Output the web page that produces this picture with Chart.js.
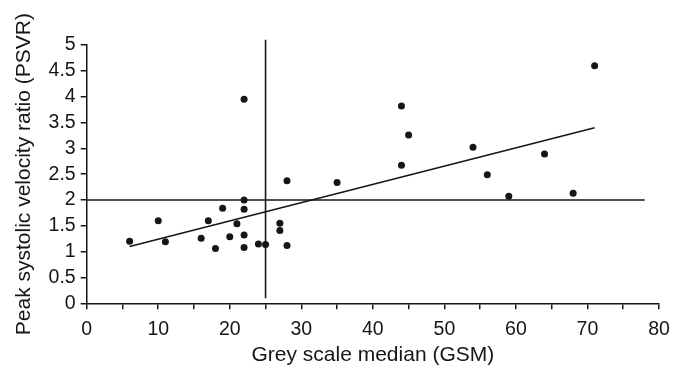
<!DOCTYPE html>
<html>
<head>
<meta charset="utf-8">
<script src="https://cdn.jsdelivr.net/npm/chart.js@4/dist/chart.umd.min.js"></script>
<style>
  html, body { margin: 0; padding: 0; background: #ffffff; }
  #wrap { width: 684px; height: 368px; }
</style>
</head>
<body>
<div id="wrap"><canvas id="c" width="684" height="368"></canvas></div>
<script>
// Grey scale median of each plaque and its peak systolic velocity ratio
const gsm  = [6, 10, 11, 16, 17, 18, 19, 20, 21, 22, 22, 22, 22, 22, 24, 25, 27, 27, 28, 28, 35, 44, 44, 45, 54, 56, 59, 64, 68, 71];
const psvr = [1.20, 1.60, 1.19, 1.26, 1.60, 1.06, 1.84, 1.29, 1.54, 2.00, 1.82, 1.32, 1.08, 3.95, 1.15, 1.14, 1.55, 1.41, 1.12, 2.37, 2.34, 3.82, 2.67, 3.26, 3.02, 2.49, 2.07, 2.89, 2.13, 4.60];

// Least-squares fit, end points
const fitX = [6, 71];
const fitY = [1.10, 3.40];

// Cut-off lines: PSVR = 2 and GSM = 25
const cutPsvrX = [0, 78];
const cutPsvrY = [2, 2];
const cutGsmX = [25, 25];
const cutGsmY = [0.1, 5.1];

// Axis ranges and tick steps
const xRange = [0, 80];
const yRange = [0, 5];
const xStep = 5;
const xLabelEvery = 10;
const yStep = 0.5;

const ink = '#161616';
const fontFamily = 'Liberation Sans, Arial, sans-serif';
const pairs = (xs, ys) => xs.map((x, i) => ({ x: x, y: ys[i] }));

const lineSet = (xs, ys) => ({
  type: 'scatter',
  data: pairs(xs, ys),
  showLine: true,
  borderColor: ink,
  borderWidth: 1.6,
  pointRadius: 0,
  clip: false,
  fill: false
});

new Chart(document.getElementById('c'), {
  type: 'scatter',
  data: {
    datasets: [
      {
        data: pairs(gsm, psvr),
        backgroundColor: ink,
        borderColor: ink,
        pointStyle: 'circle',
        pointRadius: 3.5,
        borderWidth: 0,
        clip: false
      },
      lineSet(fitX, fitY),
      lineSet(cutPsvrX, cutPsvrY),
      lineSet(cutGsmX, cutGsmY)
    ]
  },
  options: {
    responsive: false,
    animation: false,
    layout: { padding: { left: 0, right: 25, top: 45, bottom: 0 } },
    plugins: { legend: { display: false }, tooltip: { enabled: false } },
    scales: {
      x: {
        type: 'linear',
        min: xRange[0],
        max: xRange[1],
        afterFit: s => { s.height = 64.7; },
        ticks: {
          stepSize: xStep,
          autoSkip: false,
          maxRotation: 0,
          padding: 9,
          color: ink,
          font: { family: fontFamily, size: 19.5 },
          callback: v => (v % xLabelEvery === 0 ? String(v) : '')
        },
        grid: { drawOnChartArea: false, drawTicks: true, tickLength: 6, color: ink, lineWidth: 1.5 },
        border: { display: true, color: ink, width: 1.5 },
        title: {
          display: true,
          text: 'Grey scale median (GSM)',
          color: ink,
          font: { family: fontFamily, size: 21 },
          padding: { top: 0, bottom: 0 }
        }
      },
      y: {
        type: 'linear',
        min: yRange[0],
        max: yRange[1],
        afterFit: s => { s.width = 86.7; },
        ticks: {
          stepSize: yStep,
          autoSkip: false,
          padding: 5,
          color: ink,
          font: { family: fontFamily, size: 19.5 },
          callback: v => String(Math.round(v * 10) / 10)
        },
        grid: { drawOnChartArea: false, drawTicks: true, tickLength: 6, color: ink, lineWidth: 1.5 },
        border: { display: true, color: ink, width: 1.5 },
        title: {
          display: true,
          text: 'Peak systolic velocity ratio (PSVR)',
          color: ink,
          font: { family: fontFamily, size: 21 },
          padding: { top: 12, bottom: 0 }
        }
      }
    }
  }
});
</script>
</body>
</html>
